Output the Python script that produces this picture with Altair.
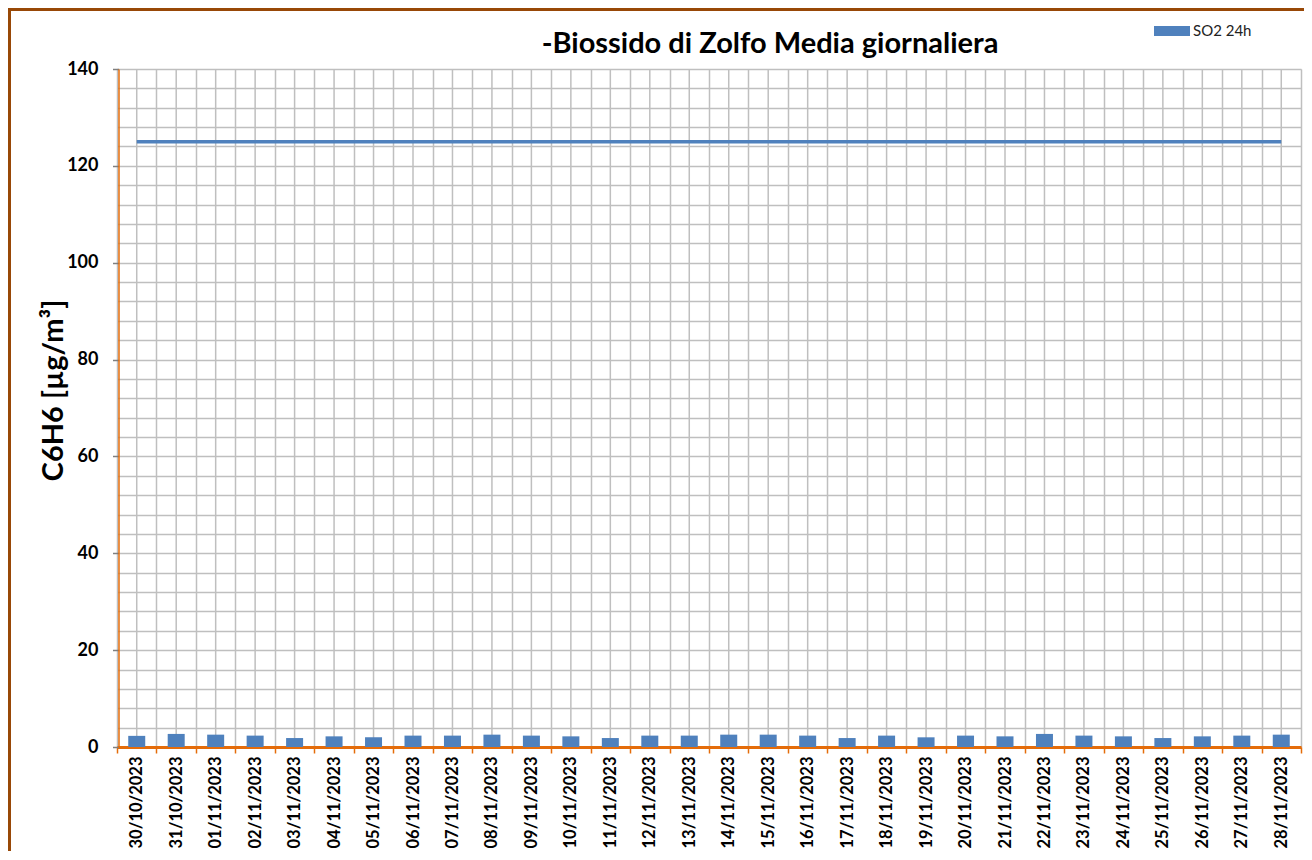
import altair as alt
import pandas as pd

dates = ["30/10/2023", "31/10/2023", "01/11/2023", "02/11/2023", "03/11/2023",
         "04/11/2023", "05/11/2023", "06/11/2023", "07/11/2023", "08/11/2023",
         "09/11/2023", "10/11/2023", "11/11/2023", "12/11/2023", "13/11/2023",
         "14/11/2023", "15/11/2023", "16/11/2023", "17/11/2023", "18/11/2023",
         "19/11/2023", "20/11/2023", "21/11/2023", "22/11/2023", "23/11/2023",
         "24/11/2023", "25/11/2023", "26/11/2023", "27/11/2023", "28/11/2023"]
so2_24h = [2.3, 2.7, 2.55, 2.35, 1.85, 2.2, 2.0, 2.35, 2.35, 2.55,
           2.35, 2.2, 1.85, 2.35, 2.35, 2.55, 2.55, 2.35, 1.85, 2.35,
           2.0, 2.35, 2.2, 2.7, 2.35, 2.2, 1.85, 2.2, 2.35, 2.55]
limit_value = 125
series_name = "SO2 24h"
title_text = "-Biossido di Zolfo Media giornaliera"
y_title = "C6H6 [µg/m³]"

df = pd.DataFrame({
    "date": dates,
    "value": so2_24h,
    "limit": [limit_value] * len(dates),
    "serie": [series_name] * len(dates),
})

W, H = 1184, 678
FONT = "Lato"
BLUE = "#4F81BD"
BROWN = "#984807"
ORANGE = "#E46C0A"
GRID = "#BFBFBF"

x_enc = alt.X(
    "date:N", sort=None, title=None,
    scale=alt.Scale(paddingInner=0, paddingOuter=0),
    axis=alt.Axis(
        tickBand="extent", grid=True, gridColor=GRID, gridWidth=1.5,
        domainColor=ORANGE, domainWidth=3,
        tickColor=ORANGE, tickSize=6, tickWidth=1.5,
        labelAngle=270, labelAlign="right", labelBaseline="middle",
        labelFont=FONT, labelFontSize=16.5, labelFontWeight="bold",
        labelColor="black", labelPadding=3,
    ),
)

y_scale = alt.Scale(domain=[0, 140], nice=False)
y_axis = alt.Axis(
    title=y_title, values=list(range(0, 141, 4)),
    labelExpr="datum.value % 20 === 0 ? datum.label : ''",
    tickOpacity={"condition": {"test": "datum.value % 20 === 0", "value": 1}, "value": 0},
    grid=True, gridColor=GRID, gridWidth=1.5,
    domainColor=ORANGE, domainWidth=1.5, offset=-1.5,
    tickColor="#7F7F7F", tickSize=6, tickWidth=1.5,
    labelFont=FONT, labelFontSize=18, labelFontWeight="bold",
    labelColor="black", labelPadding=14.5,
    titleFont=FONT, titleFontSize=29, titleFontWeight="bold", titleColor="black",
    titleAngle=270, titleAlign="center", titleBaseline="middle",
    titleX=-65.5, titleY=321,
)

base = alt.Chart(df)

center_grid = base.mark_rule(color=GRID, strokeWidth=1.5).encode(
    x=x_enc, y=alt.value(0), y2=alt.value(H)
)

limit_line = base.mark_line(color=BLUE, strokeWidth=3.5).encode(
    x=x_enc, y=alt.Y("limit:Q", scale=y_scale, axis=y_axis)
)

bars = base.mark_bar(size=17).encode(
    x=x_enc,
    y=alt.Y("value:Q", scale=y_scale, axis=y_axis),
    color=alt.Color(
        "serie:N", scale=alt.Scale(range=[BLUE]),
        legend=alt.Legend(
            title=None, orient="none", legendX=1037, legendY=-56, padding=0,
            symbolType="M-1,-0.28H1V0.28H-1Z", symbolSize=1296,
            symbolStrokeWidth=0, symbolOpacity=1, labelOffset=3,
            labelFont=FONT, labelFontSize=15, labelColor="#222222",
        ),
    ),
)

one = pd.DataFrame({"label": [title_text]})

title_mark = alt.Chart(one).mark_text(
    font=FONT, fontSize=29, fontWeight="bold", color="black",
    align="center", baseline="alphabetic",
).encode(x=alt.value(653), y=alt.value(-16), text="label:N")

frame = alt.Chart(one).mark_rect(
    filled=False, stroke=BROWN, strokeWidth=3
).encode(
    x=alt.value(-107.5), x2=alt.value(1300), y=alt.value(-59.5), y2=alt.value(900)
)

chart = alt.layer(center_grid, limit_line, bars, title_mark, frame).properties(
    width=W, height=H,
    padding={"left": 109, "top": 61, "right": 3, "bottom": 104},
    autosize=alt.AutoSizeParams(type="none"),
).configure_view(
    stroke=BROWN, strokeWidth=3
).configure(background="white")

chart.save("out.html", embed_options={"renderer": "svg", "actions": False})
